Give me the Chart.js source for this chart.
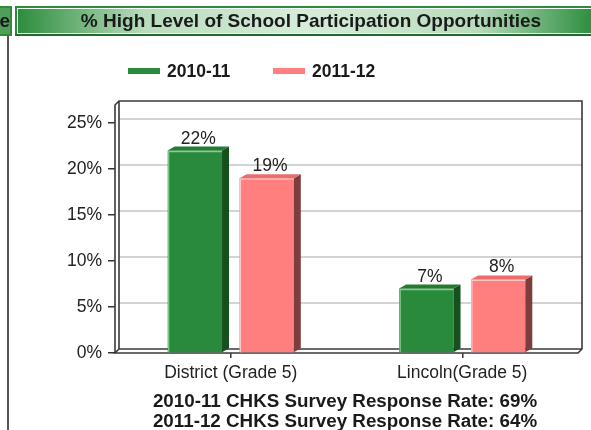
<!DOCTYPE html>
<html>
<head>
<meta charset="utf-8">
<script src="https://cdn.jsdelivr.net/npm/chart.js@4.4.1/dist/chart.umd.min.js"></script>
<style>
  html, body { margin: 0; padding: 0; background: #fff; }
  canvas { display: block; }
</style>
</head>
<body>
<canvas id="myChart" width="591" height="430"></canvas>
<script>
// chart data
const categories = ['District (Grade 5)', 'Lincoln(Grade 5)']
const seriesLabels = ['2010-11', '2011-12']
const values2010 = [22, 7]
const values2011 = [19, 8]
const yTicks = [0, 5, 10, 15, 20, 25]
const chartTitle = '% High Level of School Participation Opportunities'
const footerLines = ['2010-11 CHKS Survey Response Rate: 69%', '2011-12 CHKS Survey Response Rate: 64%']

const FONT = '"Liberation Sans", Arial, sans-serif'
const faces = ['#2a8a3b', '#ff7f7f']
const sides = ['#17501f', '#7d3d3d']
const tops = ['#237a32', '#ec6c6c']
const lights = ['#86cc92', '#ffc4c4']
const DEPTH = 4 // frame depth
const BDX = 7, BDY = 4 // bar depth

const deco = {
  id: 'deco',
  beforeDraw(chart) {
    const ctx = chart.ctx
    ctx.save()
    ctx.fillStyle = '#fff'
    ctx.fillRect(0, 0, chart.width, chart.height)

    // cut-off neighbour panel on the left
    ctx.fillStyle = '#2e8b3e'
    ctx.fillRect(0, 6, 12, 30)
    ctx.fillStyle = '#4f9f5b'
    ctx.fillRect(0, 8, 10, 26)
    ctx.fillStyle = '#1a1a1a'
    ctx.font = 'bold 19px ' + FONT
    ctx.textAlign = 'right'
    ctx.fillText('e', 10, 27)
    ctx.fillStyle = '#555'
    ctx.fillRect(7, 36, 2, chart.height - 36)

    // title bar
    ctx.fillStyle = '#2e8b3e'
    ctx.fillRect(15, 6, chart.width - 15, 30)
    ctx.fillStyle = '#f4faf4'
    ctx.fillRect(17, 8, chart.width - 17, 26)
    const g = ctx.createLinearGradient(18, 0, chart.width, 0)
    g.addColorStop(0, '#2d8c3d')
    g.addColorStop(0.22, '#b8dcbd')
    g.addColorStop(0.5, '#d6ecd9')
    g.addColorStop(0.8, '#b8dcbd')
    g.addColorStop(1, '#2f8f40')
    ctx.fillStyle = g
    ctx.fillRect(18, 9, chart.width - 18, 24)
    ctx.fillStyle = '#1f6a2c'
    ctx.fillRect(15, 34, chart.width - 15, 2)
    ctx.fillStyle = '#1a1a1a'
    ctx.font = 'bold 19px ' + FONT
    ctx.textAlign = 'center'
    ctx.fillText(chartTitle, 311, 27)

    // legend
    const legX = [128, 273]
    ctx.font = 'bold 17.5px ' + FONT
    ctx.textAlign = 'left'
    chart.data.datasets.forEach((ds, i) => {
      ctx.fillStyle = ds.backgroundColor
      ctx.fillRect(legX[i], 68, 32, 6)
      ctx.fillStyle = '#1a1a1a'
      ctx.fillText(ds.label, legX[i] + 39, 77)
    })

    // footer
    ctx.font = 'bold 18.8px ' + FONT
    ctx.textAlign = 'center'
    footerLines.forEach((t, i) => ctx.fillText(t, 345, 407 + i * 20))
    ctx.restore()
  },
  beforeDatasetsDraw(chart) {
    const ctx = chart.ctx
    const a = chart.chartArea
    const y = chart.scales.y
    const top = a.top - 18
    ctx.save()
    // back wall grid lines
    ctx.strokeStyle = '#c4c4c4'
    ctx.lineWidth = 1.5
    yTicks.slice(1).forEach(t => {
      const py = y.getPixelForValue(t) - DEPTH
      ctx.beginPath()
      ctx.moveTo(a.left + DEPTH, py)
      ctx.lineTo(a.right + DEPTH, py)
      ctx.stroke()
    })
    // frame
    ctx.strokeStyle = '#3a3a3a'
    ctx.lineWidth = 1.6
    ctx.beginPath()
    ctx.moveTo(a.left, a.bottom)
    ctx.lineTo(a.left, top)
    ctx.lineTo(a.left + DEPTH, top - DEPTH)
    ctx.lineTo(a.right + DEPTH, top - DEPTH)
    ctx.lineTo(a.right + DEPTH, a.bottom - DEPTH)
    ctx.lineTo(a.right, a.bottom)
    ctx.lineTo(a.left, a.bottom)
    ctx.lineTo(a.left + DEPTH, a.bottom - DEPTH)
    ctx.lineTo(a.right + DEPTH, a.bottom - DEPTH)
    ctx.moveTo(a.left + DEPTH, top - DEPTH)
    ctx.lineTo(a.left + DEPTH, a.bottom - DEPTH)
    ctx.stroke()
    ctx.restore()
  },
  afterDatasetsDraw(chart) {
    const ctx = chart.ctx
    ctx.save()
    chart.data.datasets.forEach((ds, i) => {
      chart.getDatasetMeta(i).data.forEach((bar, j) => {
        const l = bar.x - bar.width / 2
        const r = bar.x + bar.width / 2
        const t = bar.y
        const b = bar.base
        // side
        ctx.fillStyle = sides[i]
        ctx.beginPath()
        ctx.moveTo(r, t)
        ctx.lineTo(r + BDX, t - BDY)
        ctx.lineTo(r + BDX, b - BDY)
        ctx.lineTo(r, b)
        ctx.closePath()
        ctx.fill()
        // top
        ctx.fillStyle = tops[i]
        ctx.beginPath()
        ctx.moveTo(l, t)
        ctx.lineTo(l + BDX, t - BDY)
        ctx.lineTo(r + BDX, t - BDY)
        ctx.lineTo(r, t)
        ctx.closePath()
        ctx.fill()
        // highlights
        ctx.strokeStyle = lights[i]
        ctx.lineWidth = 1.2
        ctx.beginPath()
        ctx.moveTo(l + 1, b)
        ctx.lineTo(l + 1, t + 1)
        ctx.lineTo(r, t + 1)
        ctx.stroke()
        // value label
        ctx.fillStyle = '#222'
        ctx.font = '17.5px ' + FONT
        ctx.textAlign = 'center'
        ctx.fillText(ds.data[j] + '%', bar.x + BDX / 2, t - 7)
      })
    })
    ctx.restore()
  }
}

const ctx = document.getElementById('myChart')
const myChart = new Chart(ctx, {
  type: 'bar',
  data: {
    labels: categories,
    datasets: [
      {
        label: seriesLabels[0],
        data: values2010,
        backgroundColor: faces[0],
        borderWidth: 0,
        categoryPercentage: 0.62,
        barPercentage: 0.757
      },
      {
        label: seriesLabels[1],
        data: values2011,
        backgroundColor: faces[1],
        borderWidth: 0,
        categoryPercentage: 0.62,
        barPercentage: 0.757
      }
    ]
  },
  options: {
    responsive: false,
    maintainAspectRatio: false,
    animation: false,
    layout: { padding: { top: 123, right: 13, left: 0, bottom: 0 } },
    plugins: {
      legend: { display: false },
      tooltip: { enabled: false }
    },
    scales: {
      x: {
        grid: { offset: false, drawOnChartArea: false, tickLength: 5, color: '#333', lineWidth: 1.5 },
        border: { display: false },
        ticks: { color: '#222', font: { family: FONT, size: 17.5 }, padding: 5, maxRotation: 0 },
        afterFit(scale) { scale.height = 77 }
      },
      y: {
        min: 0,
        max: 25,
        afterBuildTicks(scale) { scale.ticks = yTicks.map(v => ({ value: v })) },
        ticks: { callback: v => v + '%', color: '#222', font: { family: FONT, size: 17.5 }, padding: 6 },
        grid: { drawOnChartArea: false, tickLength: 7, color: '#333', lineWidth: 1.5 },
        border: { display: false },
        afterFit(scale) { scale.width = 115 }
      }
    }
  },
  plugins: [deco]
})
</script>
</body>
</html>
